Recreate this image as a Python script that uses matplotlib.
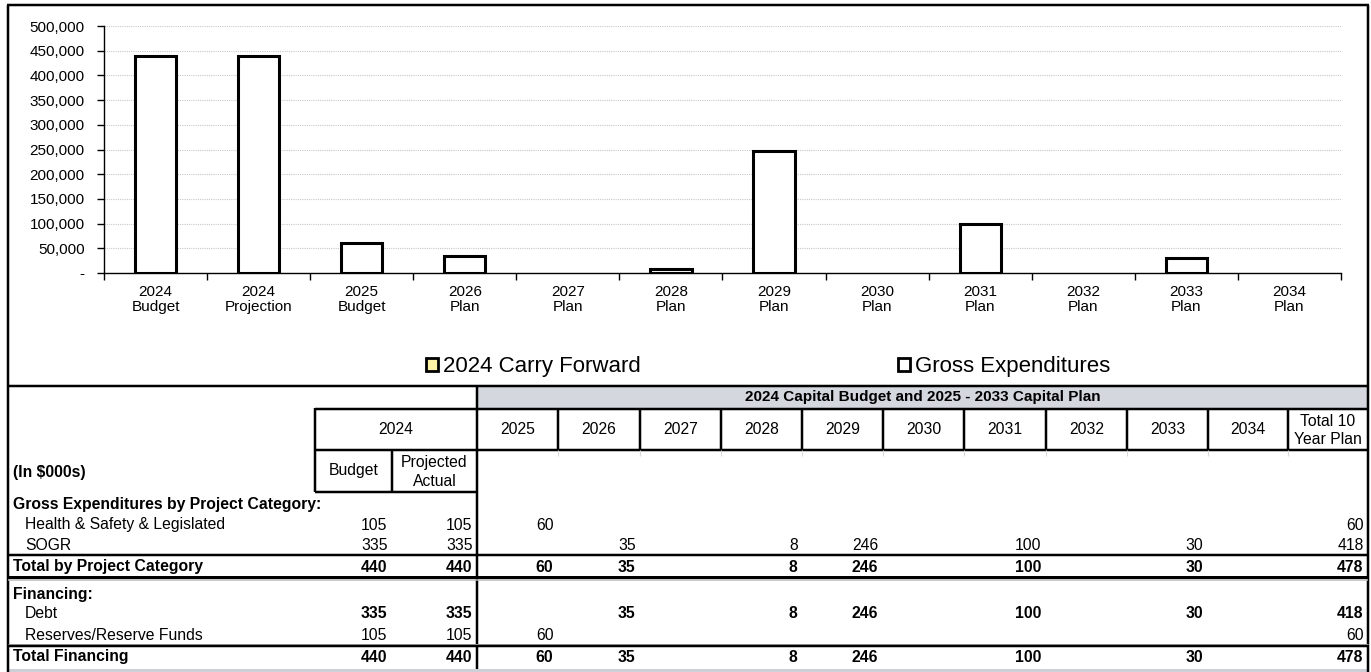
import numpy as np
import matplotlib
matplotlib.use("Agg")
from matplotlib import pyplot as plt
from matplotlib.patches import Patch, Rectangle

plt.rcParams["font.family"] = ["Liberation Sans", "DejaVu Sans"]

# chart data
categories = ["2024\nBudget", "2024\nProjection", "2025\nBudget", "2026\nPlan", "2027\nPlan",
              "2028\nPlan", "2029\nPlan", "2030\nPlan", "2031\nPlan", "2032\nPlan",
              "2033\nPlan", "2034\nPlan"]
gross_expenditures = [440000, 440000, 60000, 35000, 0, 8000, 246000, 0, 100000, 0, 30000, 0]
carry_forward = [0, 0, 0, 0, 0, 0, 0, 0, 0, 0, 0, 0]

# table data (in $000s), columns: 2024 budget, 2024 projected, 2025..2034, total
year_headers = ["2025", "2026", "2027", "2028", "2029", "2030", "2031", "2032", "2033", "2034"]
health_safety = [105, 105, 60, None, None, None, None, None, None, None, None, None, 60]
sogr = [335, 335, None, 35, None, 8, 246, None, 100, None, 30, None, 418]
total_category = [440, 440, 60, 35, None, 8, 246, None, 100, None, 30, None, 478]
debt = [335, 335, None, 35, None, 8, 246, None, 100, None, 30, None, 418]
reserves = [105, 105, 60, None, None, None, None, None, None, None, None, None, 60]
total_financing = [440, 440, 60, 35, None, 8, 246, None, 100, None, 30, None, 478]

W, H = 1371, 672
fig = plt.figure(figsize=(W / 100, H / 100), dpi=100)

# overlay in pixel coords for frame + table
tb = fig.add_axes([0, 0, 1, 1])
tb.set_xlim(0, W)
tb.set_ylim(H, 0)
tb.axis("off")

def px(v):
    return v * 0.72

def hline(y, x0, x1, lw=2, color="black"):
    tb.plot([x0, x1], [y, y], color=color, lw=px(lw), solid_capstyle="butt")

def vline(x, y0, y1, lw=2, color="black"):
    tb.plot([x, x], [y0, y1], color=color, lw=px(lw), solid_capstyle="butt")

L, R = 8, 1368
# outer frame
hline(5, L - 1, R + 1, lw=2.5)
vline(L, 5, H, lw=2.5)
vline(R, 5, H, lw=2.5)

# table header
tb.add_patch(Rectangle((477, 386), R - 477, 22, facecolor="#D4D7DE", edgecolor="none"))
hline(385.5, L, R, lw=2.5)
tb.text((477 + R) / 2, 397, "2024 Capital Budget and 2025 - 2033 Capital Plan",
        ha="center", va="center", fontsize=11, fontweight="bold")

col_edges = [315, 392, 477, 558, 640, 721, 802, 883, 964, 1046, 1127, 1208, 1288, R]
hline(408.5, 315, R, lw=2.5)
hline(450, 315, R, lw=2.5)
hline(492, 315, 477, lw=2.5)
vline(315, 408, 492, lw=2.5)
vline(392, 450, 492, lw=2.5)
vline(477, 385, 669, lw=2.5)
for xe in col_edges[3:-1]:
    vline(xe, 408, 450, lw=2.5)
    vline(xe, 450, 456, lw=1, color="#D8D8D8")

fs = 11.3
tb.text(396, 429, "2024", ha="center", va="center", fontsize=fs)
for i, yr in enumerate(year_headers):
    tb.text((col_edges[i + 2] + col_edges[i + 3]) / 2, 429, yr, ha="center", va="center", fontsize=fs)
tb.text((1288 + R) / 2, 430, "Total 10\nYear Plan", ha="center", va="center", fontsize=fs, linespacing=1.25)
tb.text((315 + 392) / 2, 471, "Budget", ha="center", va="center", fontsize=fs)
tb.text((392 + 477) / 2, 472, "Projected\nActual", ha="center", va="center", fontsize=fs, linespacing=1.25)

tb.text(13, 472, "(In $000s)", ha="left", va="center", fontsize=fs, fontweight="bold")
tb.text(13, 504, "Gross Expenditures by Project Category:", ha="left", va="center", fontsize=fs, fontweight="bold")
tb.text(13, 594, "Financing:", ha="left", va="center", fontsize=fs, fontweight="bold")

rows = [
    ("Health & Safety & Legislated", health_safety, 525, 25, "normal", "normal"),
    ("SOGR", sogr, 546, 25, "normal", "normal"),
    ("Total by Project Category", total_category, 567, 13, "bold", "bold"),
    ("Debt", debt, 614, 25, "normal", "bold"),
    ("Reserves/Reserve Funds", reserves, 636, 25, "normal", "normal"),
    ("Total Financing", total_financing, 657, 13, "bold", "bold"),
]
for label, vals, y, xl, lw_label, lw_nums in rows:
    tb.text(xl, y, label, ha="left", va="center", fontsize=fs, fontweight=lw_label)
    for j, v in enumerate(vals):
        if v is None:
            continue
        tb.text(col_edges[j + 1] - 4.5, y, f"{v:,}", ha="right", va="center",
                fontsize=fs, fontweight=lw_nums)

hline(555, L, R, lw=2.5)
hline(576.5, L, R, lw=3)
hline(580, L, R, lw=1.5, color="#B8B8B8")
hline(643.5, L, R, lw=1, color="#B8B8B8")
hline(646, L, R, lw=2.5)
tb.add_patch(Rectangle((L, 668.5), R - L, 4, facecolor="#CDD0D6", edgecolor="none"))

# bar chart
ax = fig.add_axes([104 / W, 1 - 273 / H, (1341 - 104) / W, (273 - 26) / H])
ax.patch.set_alpha(0)
x = np.arange(len(categories))
gross = np.array(gross_expenditures)
cf = np.array(carry_forward)
m = gross > 0
ax.bar(x[m], gross[m], width=0.4, facecolor="white", edgecolor="black", linewidth=2.2, zorder=3)
mc = cf > 0
ax.bar(x[mc], cf[mc], bottom=gross[mc], width=0.4, facecolor="#FFF3A8", edgecolor="black",
       linewidth=2.2, zorder=3)

ax.set_xlim(-0.5, len(categories) - 0.5)
ax.set_ylim(0, 500000)
yt = np.arange(0, 500001, 50000)
ax.set_yticks(yt)
ax.set_yticklabels(["-" if v == 0 else f"{v:,}" for v in yt], fontsize=11)
ax.tick_params(axis="y", length=5, width=1, pad=9, direction="out")
ax.set_xticks(x)
ax.set_xticklabels(categories, fontsize=11, linespacing=1.05)
ax.tick_params(axis="x", which="major", length=0, pad=9)
ax.set_xticks(np.arange(-0.5, len(categories)), minor=True)
ax.tick_params(axis="x", which="minor", length=5, width=1, direction="out")
ax.grid(axis="y", color="#C8C8C8", linestyle=(0, (1, 1)), linewidth=0.8, zorder=0)
for s in ["top", "right"]:
    ax.spines[s].set_visible(False)
for s in ["left", "bottom"]:
    ax.spines[s].set_linewidth(1)

handles = [Patch(facecolor="#FFF3A8", edgecolor="black", linewidth=2),
           Patch(facecolor="white", edgecolor="black", linewidth=2)]
fig.legend(handles, ["2024 Carry Forward", "Gross Expenditures"], ncol=2, frameon=False,
           loc="center left", bbox_to_anchor=(426 / W, 1 - 367 / H), fontsize=16,
           handlelength=0.55, handleheight=0.55, handletextpad=0.2, columnspacing=11.6,
           borderpad=0, borderaxespad=0)

plt.savefig("out.png", dpi=100)
